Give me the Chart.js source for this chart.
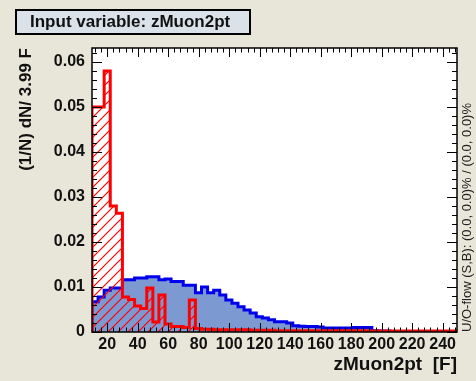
<!DOCTYPE html>
<html>
<head>
<meta charset="utf-8">
<script src="https://cdn.jsdelivr.net/npm/chart.js@4.4.0/dist/chart.umd.min.js"></script>
<style>
  html, body { margin: 0; padding: 0; background: #e8e5d9; }
</style>
</head>
<body>
<canvas id="chart1" width="476" height="381"></canvas>
<script>
// zMuon2pt histograms, 60 bins of 3.99 starting at 10
const binLow = 10;
const binWidth = 3.99;
const nBins = 60;

const signal = [
  0.0067, 0.0078, 0.0093, 0.0098, 0.0098, 0.0116, 0.0116, 0.0120, 0.0120, 0.0123,
  0.0123, 0.0116, 0.0118, 0.0112, 0.0112, 0.0104, 0.0104, 0.0087, 0.0100, 0.0087,
  0.0093, 0.0082, 0.0071, 0.0064, 0.0056, 0.0049, 0.0042, 0.0034, 0.0031, 0.0027,
  0.0023, 0.0023, 0.0020, 0.0014, 0.0013, 0.0012, 0.0012, 0.0011, 0.0009, 0.0009,
  0.0009, 0.0009, 0.0009, 0.0010, 0.0010, 0.0010, 0.0003, 0.0002, 0.0002, 0.0001,
  0, 0, 0, 0, 0, 0, 0, 0, 0, 0
];

const background = [
  0.0500, 0.0500, 0.0580, 0.0280, 0.0264, 0.0078, 0.0072, 0.0058, 0.0052, 0.0098,
  0.0022, 0.0082, 0.0018, 0.0012, 0.0012, 0.0010, 0.0071, 0.0008, 0.0006, 0.0006,
  0.0005, 0.0005, 0.0005, 0.0005, 0.0005, 0.0005, 0.0004, 0.0004, 0.0004, 0.0004,
  0.0003, 0.0003, 0.0003, 0.0003, 0.0003, 0.0003, 0.0003, 0.0003, 0.0003, 0.0003,
  0.0003, 0.0003, 0.0003, 0.0003, 0.0003, 0.0002, 0.0002, 0.0002, 0.0002, 0.0002,
  0.0002, 0.0002, 0.0002, 0.0002, 0.0002, 0.0002, 0.0002, 0.0002, 0.0002, 0.0002
];

const xTicks = [20, 40, 60, 80, 100, 120, 140, 160, 180, 200, 220, 240];
const yTicks = [0, 0.01, 0.02, 0.03, 0.04, 0.05, 0.06];

const xMax = binLow + nBins * binWidth;
const yMax = 0.0631;

// outline points for a stepped histogram: up at the first edge, down at the last
function histPoints(values) {
  const pts = [{ x: binLow, y: 0 }];
  values.forEach((v, i) => pts.push({ x: binLow + i * binWidth, y: v }));
  pts.push({ x: xMax, y: 0 });
  return pts;
}

// red hatching like ROOT fill style 3554
let hatchPattern = null;
function hatch(ctx) {
  if (hatchPattern) return hatchPattern;
  const c = document.createElement('canvas');
  c.width = 10;
  c.height = 10;
  const g = c.getContext('2d');
  g.strokeStyle = 'rgb(255,0,0)';
  g.lineWidth = 1.2;
  g.beginPath();
  g.moveTo(0, 10); g.lineTo(10, 0);
  g.moveTo(-1, 1); g.lineTo(1, -1);
  g.moveTo(9, 11); g.lineTo(11, 9);
  g.stroke();
  hatchPattern = ctx.createPattern(c, 'repeat');
  return hatchPattern;
}

const rootFrame = {
  id: 'rootFrame',
  beforeDraw(chart) {
    const { ctx, chartArea: a } = chart;
    ctx.save();
    ctx.fillStyle = '#e8e5d9';
    ctx.fillRect(0, 0, chart.width, chart.height);
    ctx.fillStyle = '#ffffff';
    ctx.fillRect(a.left, a.top, a.right - a.left, a.bottom - a.top);
    ctx.restore();
  },
  afterDatasetsDraw(chart) {
    const { ctx, chartArea: a } = chart;
    const xs = chart.scales.x, ys = chart.scales.y;
    ctx.save();
    ctx.strokeStyle = '#000';
    ctx.lineWidth = 1;
    ctx.beginPath();
    // x ticks every 4, long every 20
    for (let k = 3; k * 4 <= xMax; k++) {
      const v = k * 4;
      const len = v % 20 === 0 ? 9 : 4.5;
      const px = Math.round(xs.getPixelForValue(v)) + 0.5;
      ctx.moveTo(px, a.bottom); ctx.lineTo(px, a.bottom - len);
      ctx.moveTo(px, a.top); ctx.lineTo(px, a.top + len);
    }
    // y ticks every 0.002, long every 0.01
    for (let k = 0; k * 0.002 <= yMax; k++) {
      const len = k % 5 === 0 ? 10 : 5;
      const py = Math.round(ys.getPixelForValue(k * 0.002)) + 0.5;
      ctx.moveTo(a.left, py); ctx.lineTo(a.left + len, py);
      ctx.moveTo(a.right, py); ctx.lineTo(a.right - len, py);
    }
    ctx.stroke();
    ctx.lineWidth = 1.5;
    ctx.strokeRect(a.left, a.top, a.right - a.left, a.bottom - a.top);
    ctx.restore();
  },
  afterDraw(chart) {
    const { ctx, chartArea: a } = chart;
    ctx.save();
    // title box
    ctx.fillStyle = '#dae1e8';
    ctx.fillRect(16, 10, 234, 24);
    ctx.strokeStyle = '#000';
    ctx.lineWidth = 2;
    ctx.strokeRect(16, 10, 234, 24);
    ctx.fillStyle = '#111';
    ctx.font = 'bold 17px "Liberation Sans", Arial, sans-serif';
    ctx.textBaseline = 'middle';
    ctx.fillText('Input variable: zMuon2pt', 30, 22.5);
    // under/overflow note along the right edge
    ctx.translate(467, a.bottom);
    ctx.rotate(-Math.PI / 2);
    ctx.font = '13px "Liberation Sans", Arial, sans-serif';
    ctx.fillStyle = '#222';
    ctx.textAlign = 'left';
    ctx.fillText('U/O-flow (S,B): (0.0, 0.0)% / (0.0, 0.0)%', 0, 0);
    ctx.restore();
  }
};

Chart.defaults.font.family = '"Liberation Sans", Arial, sans-serif';
Chart.defaults.color = '#111';

const ctx1 = document.getElementById('chart1');

new Chart(ctx1, {
  type: 'line',
  data: {
    datasets: [
      {
        label: 'Background',
        data: histPoints(background),
        stepped: 'before',
        borderColor: '#ff0000',
        borderWidth: 3,
        backgroundColor: c => hatch(c.chart.ctx),
        fill: 'origin',
        pointRadius: 0,
        order: 1
      },
      {
        label: 'Signal',
        data: histPoints(signal),
        stepped: 'before',
        borderColor: '#0000ee',
        borderWidth: 3,
        backgroundColor: '#7d99d1',
        fill: 'origin',
        pointRadius: 0,
        order: 2
      }
    ]
  },
  options: {
    responsive: false,
    animation: false,
    devicePixelRatio: 1,
    layout: { padding: { top: 48, right: 19, left: 0, bottom: 0 } },
    plugins: {
      legend: { display: false },
      tooltip: { enabled: false }
    },
    scales: {
      x: {
        type: 'linear',
        min: binLow,
        max: xMax,
        grid: { display: false, drawTicks: false },
        border: { display: false },
        afterBuildTicks: s => { s.ticks = xTicks.map(v => ({ value: v })); },
        afterFit: s => { s.height = 49; },
        ticks: {
          autoSkip: false,
          maxRotation: 0,
          padding: 3,
          color: '#111',
          font: { size: 16, weight: 'bold' }
        },
        title: {
          display: true,
          text: 'zMuon2pt  [F]',
          align: 'end',
          color: '#111',
          font: { size: 19, weight: 'bold' },
          padding: { top: 0, bottom: 5 }
        }
      },
      y: {
        type: 'linear',
        min: 0,
        max: yMax,
        grid: { display: false, drawTicks: false },
        border: { display: false },
        afterBuildTicks: s => { s.ticks = yTicks.map(v => ({ value: v })); },
        afterFit: s => { s.width = 92; },
        ticks: {
          padding: 7,
          color: '#111',
          font: { size: 16, weight: 'bold' }
        },
        title: {
          display: true,
          text: '(1/N) dN/ 3.99 F',
          align: 'end',
          color: '#111',
          font: { size: 17, weight: 'bold' },
          padding: { top: 16, bottom: 0 }
        }
      }
    }
  },
  plugins: [rootFrame]
});
</script>
</body>
</html>
